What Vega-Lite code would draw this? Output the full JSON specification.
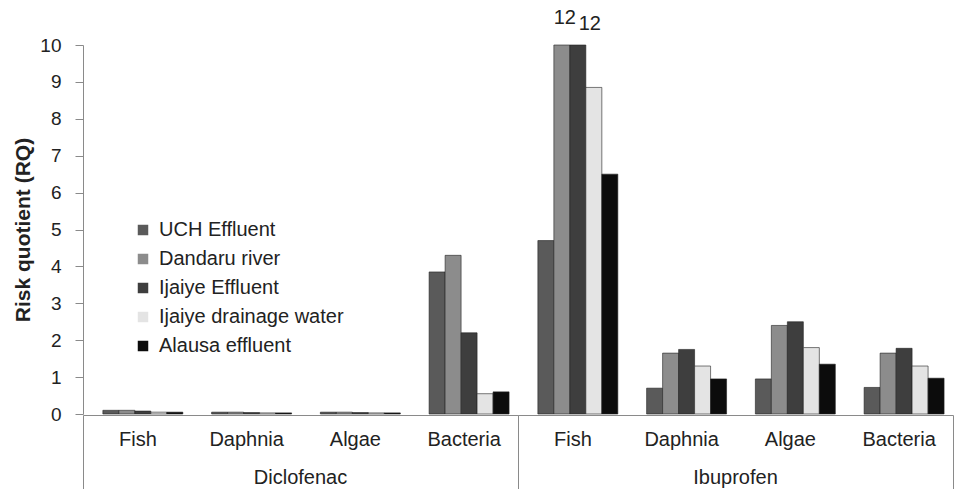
{
  "$schema": "https://vega.github.io/schema/vega-lite/v6.json",
  "padding": {"left": 12, "top": 8, "right": 0, "bottom": 0},
  "background": "white",
  "config": {
    "font": "Liberation Sans",
    "view": {"stroke": null},
    "axis": {"labelColor": "#222", "titleColor": "#222", "domainColor": "#8a8a8a", "tickColor": "#8a8a8a", "grid": false}
  },
  "data": {"values": [
    {"Drug": "Diclofenac", "Organism": "Fish", "Site": "UCH Effluent", "RQ": 0.1},
    {"Drug": "Diclofenac", "Organism": "Fish", "Site": "Dandaru river", "RQ": 0.1},
    {"Drug": "Diclofenac", "Organism": "Fish", "Site": "Ijaiye Effluent", "RQ": 0.08},
    {"Drug": "Diclofenac", "Organism": "Fish", "Site": "Ijaiye drainage water", "RQ": 0.05},
    {"Drug": "Diclofenac", "Organism": "Fish", "Site": "Alausa effluent", "RQ": 0.05},
    {"Drug": "Diclofenac", "Organism": "Daphnia", "Site": "UCH Effluent", "RQ": 0.05},
    {"Drug": "Diclofenac", "Organism": "Daphnia", "Site": "Dandaru river", "RQ": 0.05},
    {"Drug": "Diclofenac", "Organism": "Daphnia", "Site": "Ijaiye Effluent", "RQ": 0.04},
    {"Drug": "Diclofenac", "Organism": "Daphnia", "Site": "Ijaiye drainage water", "RQ": 0.03},
    {"Drug": "Diclofenac", "Organism": "Daphnia", "Site": "Alausa effluent", "RQ": 0.03},
    {"Drug": "Diclofenac", "Organism": "Algae", "Site": "UCH Effluent", "RQ": 0.05},
    {"Drug": "Diclofenac", "Organism": "Algae", "Site": "Dandaru river", "RQ": 0.05},
    {"Drug": "Diclofenac", "Organism": "Algae", "Site": "Ijaiye Effluent", "RQ": 0.04},
    {"Drug": "Diclofenac", "Organism": "Algae", "Site": "Ijaiye drainage water", "RQ": 0.03},
    {"Drug": "Diclofenac", "Organism": "Algae", "Site": "Alausa effluent", "RQ": 0.03},
    {"Drug": "Diclofenac", "Organism": "Bacteria", "Site": "UCH Effluent", "RQ": 3.85},
    {"Drug": "Diclofenac", "Organism": "Bacteria", "Site": "Dandaru river", "RQ": 4.3},
    {"Drug": "Diclofenac", "Organism": "Bacteria", "Site": "Ijaiye Effluent", "RQ": 2.2},
    {"Drug": "Diclofenac", "Organism": "Bacteria", "Site": "Ijaiye drainage water", "RQ": 0.55},
    {"Drug": "Diclofenac", "Organism": "Bacteria", "Site": "Alausa effluent", "RQ": 0.6},
    {"Drug": "Ibuprofen", "Organism": "Fish", "Site": "UCH Effluent", "RQ": 4.7},
    {"Drug": "Ibuprofen", "Organism": "Fish", "Site": "Dandaru river", "RQ": 12},
    {"Drug": "Ibuprofen", "Organism": "Fish", "Site": "Ijaiye Effluent", "RQ": 12},
    {"Drug": "Ibuprofen", "Organism": "Fish", "Site": "Ijaiye drainage water", "RQ": 8.85},
    {"Drug": "Ibuprofen", "Organism": "Fish", "Site": "Alausa effluent", "RQ": 6.5},
    {"Drug": "Ibuprofen", "Organism": "Daphnia", "Site": "UCH Effluent", "RQ": 0.7},
    {"Drug": "Ibuprofen", "Organism": "Daphnia", "Site": "Dandaru river", "RQ": 1.65},
    {"Drug": "Ibuprofen", "Organism": "Daphnia", "Site": "Ijaiye Effluent", "RQ": 1.75},
    {"Drug": "Ibuprofen", "Organism": "Daphnia", "Site": "Ijaiye drainage water", "RQ": 1.3},
    {"Drug": "Ibuprofen", "Organism": "Daphnia", "Site": "Alausa effluent", "RQ": 0.95},
    {"Drug": "Ibuprofen", "Organism": "Algae", "Site": "UCH Effluent", "RQ": 0.95},
    {"Drug": "Ibuprofen", "Organism": "Algae", "Site": "Dandaru river", "RQ": 2.4},
    {"Drug": "Ibuprofen", "Organism": "Algae", "Site": "Ijaiye Effluent", "RQ": 2.5},
    {"Drug": "Ibuprofen", "Organism": "Algae", "Site": "Ijaiye drainage water", "RQ": 1.8},
    {"Drug": "Ibuprofen", "Organism": "Algae", "Site": "Alausa effluent", "RQ": 1.35},
    {"Drug": "Ibuprofen", "Organism": "Bacteria", "Site": "UCH Effluent", "RQ": 0.72},
    {"Drug": "Ibuprofen", "Organism": "Bacteria", "Site": "Dandaru river", "RQ": 1.65},
    {"Drug": "Ibuprofen", "Organism": "Bacteria", "Site": "Ijaiye Effluent", "RQ": 1.78},
    {"Drug": "Ibuprofen", "Organism": "Bacteria", "Site": "Ijaiye drainage water", "RQ": 1.3},
    {"Drug": "Ibuprofen", "Organism": "Bacteria", "Site": "Alausa effluent", "RQ": 0.97}
  ]},
  "facet": {
    "column": {
      "field": "Drug", "type": "nominal", "sort": ["Diclofenac", "Ibuprofen"],
      "header": {"title": null, "labelOrient": "bottom", "labelFontSize": 20, "labelColor": "#222", "labelPadding": -24, "labelFont": "Liberation Sans"}
    }
  },
  "spacing": 0,
  "spec": {
    "width": 435,
    "height": 369,
    "encoding": {
      "x": {
        "field": "Organism", "type": "nominal", "sort": ["Fish", "Daphnia", "Algae", "Bacteria"],
        "scale": {"paddingInner": 0, "paddingOuter": 0},
        "axis": {
          "title": null, "labelAngle": 0, "labelFontSize": 20,
          "ticks": true, "tickBand": "extent", "tickSize": 76, "labelPadding": -62,
          "tickColor": {"condition": {"test": "datum.value === 'Bacteria' || datum.extra", "value": "#8a8a8a"}, "value": "transparent"}
        }
      },
      "xOffset": {
        "field": "Site", "type": "nominal",
        "sort": ["UCH Effluent", "Dandaru river", "Ijaiye Effluent", "Ijaiye drainage water", "Alausa effluent"],
        "scale": {"paddingInner": 0, "paddingOuter": 0.9, "align": 0.69}
      },
      "y": {
        "field": "RQ", "type": "quantitative",
        "scale": {"domain": [0, 10], "clamp": true, "nice": false},
        "axis": {"title": "Risk quotient (RQ)", "titleFontSize": 21, "titleFontWeight": "bold", "labelFontSize": 19, "tickCount": 10, "tickSize": 8, "labelPadding": 14, "titlePadding": 6}
      }
    },
    "layer": [
      {
        "mark": {"type": "bar", "stroke": "#222", "strokeWidth": 0.6},
        "encoding": {
          "color": {
            "field": "Site", "type": "nominal",
            "sort": ["UCH Effluent", "Dandaru river", "Ijaiye Effluent", "Ijaiye drainage water", "Alausa effluent"],
            "scale": {"domain": ["UCH Effluent", "Dandaru river", "Ijaiye Effluent", "Ijaiye drainage water", "Alausa effluent"], "range": ["#5a5a5a", "#8c8c8c", "#3e3e3e", "#e4e4e4", "#0c0c0c"]},
            "legend": {"title": null, "orient": "none", "legendX": 50, "legendY": 175, "symbolType": "square", "symbolSize": 110, "labelFontSize": 20, "labelColor": "#222", "rowPadding": 9, "labelOffset": 6, "symbolStrokeWidth": 0, "labelLimit": 0}
          }
        }
      },
      {
        "transform": [{"filter": "datum.RQ > 10"}],
        "mark": {
          "type": "text", "fontSize": 20, "color": "#222",
          "dx": {"expr": "datum.Site === 'Dandaru river' ? 3 : 12"},
          "dy": {"expr": "datum.Site === 'Dandaru river' ? -27 : -21"}
        },
        "encoding": {"text": {"field": "RQ", "type": "quantitative"}}
      }
    ]
  }
}
